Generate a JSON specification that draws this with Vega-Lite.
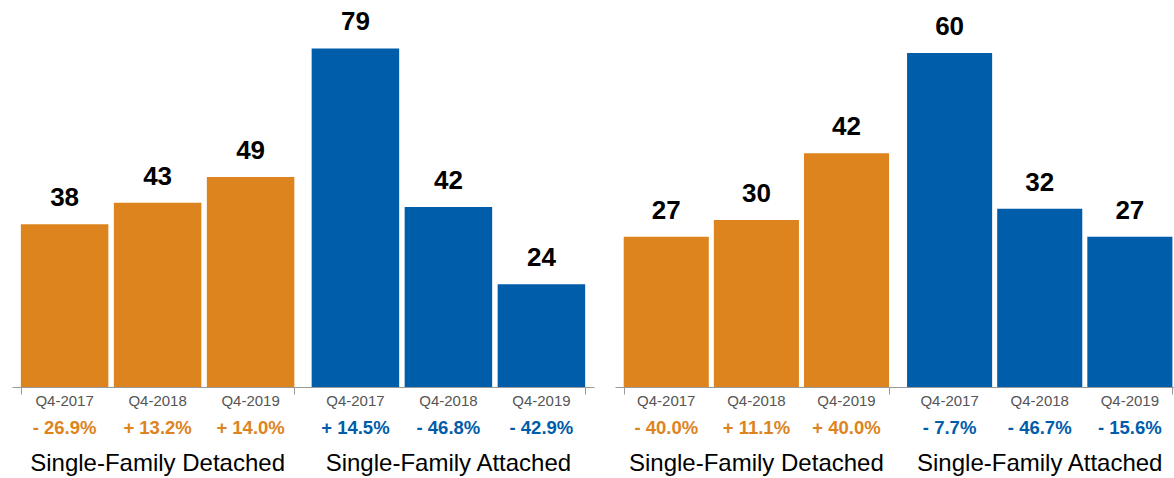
{
  "$schema": "https://vega.github.io/schema/vega-lite/v6.json",
  "padding": {"left": 12, "top": 0, "right": 0, "bottom": 0},
  "background": "white",
  "config": {
    "view": {"stroke": null},
    "font": "Liberation Sans",
    "text": {"font": "Liberation Sans"}
  },
  "datasets": {
    "bars": [
      {"panel": "A", "group": "Single-Family Detached", "quarter": "Q4-2017", "value": 38, "pct": "- 26.9%"},
      {"panel": "A", "group": "Single-Family Detached", "quarter": "Q4-2018", "value": 43, "pct": "+ 13.2%"},
      {"panel": "A", "group": "Single-Family Detached", "quarter": "Q4-2019", "value": 49, "pct": "+ 14.0%"},
      {"panel": "A", "group": "Single-Family Attached", "quarter": "Q4-2017", "value": 79, "pct": "+ 14.5%"},
      {"panel": "A", "group": "Single-Family Attached", "quarter": "Q4-2018", "value": 42, "pct": "- 46.8%"},
      {"panel": "A", "group": "Single-Family Attached", "quarter": "Q4-2019", "value": 24, "pct": "- 42.9%"},
      {"panel": "B", "group": "Single-Family Detached", "quarter": "Q4-2017", "value": 27, "pct": "- 40.0%"},
      {"panel": "B", "group": "Single-Family Detached", "quarter": "Q4-2018", "value": 30, "pct": "+ 11.1%"},
      {"panel": "B", "group": "Single-Family Detached", "quarter": "Q4-2019", "value": 42, "pct": "+ 40.0%"},
      {"panel": "B", "group": "Single-Family Attached", "quarter": "Q4-2017", "value": 60, "pct": "- 7.7%"},
      {"panel": "B", "group": "Single-Family Attached", "quarter": "Q4-2018", "value": 32, "pct": "- 46.7%"},
      {"panel": "B", "group": "Single-Family Attached", "quarter": "Q4-2019", "value": 27, "pct": "- 15.6%"}
    ]
  },
  "hconcat": [
    {
      "width": 582,
      "height": 387,
      "data": {"name": "bars"},
      "transform": [{"filter": "datum.panel === 'A'"}],
      "encoding": {
        "x": {
          "field": "group", "type": "nominal",
          "scale": {"domain": ["Single-Family Detached", "Single-Family Attached"], "paddingInner": 0.0595, "paddingOuter": 0.0304},
          "axis": {"title": null, "labels": false, "tickBand": "extent", "tickSize": 7, "domainColor": "#9a9a9a", "tickColor": "#9a9a9a", "grid": false}
        },
        "color": {
          "field": "group", "type": "nominal",
          "scale": {"domain": ["Single-Family Detached", "Single-Family Attached"], "range": ["#DD841E", "#005DAA"]},
          "legend": null
        }
      },
      "layer": [
        {
          "mark": {"type": "bar"},
          "encoding": {
            "xOffset": {"field": "quarter", "type": "nominal", "scale": {"paddingInner": 0.059, "paddingOuter": 0}},
            "y": {"field": "value", "type": "quantitative", "scale": {"domain": [0, 90.3], "nice": false, "zero": true}, "axis": null}
          }
        },
        {
          "mark": {"type": "text", "fontSize": 26, "fontWeight": "bold", "baseline": "alphabetic", "dy": -18},
          "encoding": {
            "xOffset": {"field": "quarter", "type": "nominal"},
            "y": {"field": "value", "type": "quantitative"},
            "text": {"field": "value", "type": "quantitative"},
            "color": {"value": "black"}
          }
        },
        {
          "mark": {"type": "text", "fontSize": 15, "baseline": "alphabetic", "dy": 19},
          "encoding": {
            "xOffset": {"field": "quarter", "type": "nominal"},
            "y": {"datum": 0, "type": "quantitative"},
            "text": {"field": "quarter", "type": "nominal"},
            "color": {"value": "#555555"}
          }
        },
        {
          "mark": {"type": "text", "fontSize": 18.5, "fontWeight": "bold", "baseline": "alphabetic", "dy": 47},
          "encoding": {
            "xOffset": {"field": "quarter", "type": "nominal"},
            "y": {"datum": 0, "type": "quantitative"},
            "text": {"field": "pct", "type": "nominal"}
          }
        },
        {
          "transform": [{"filter": "datum.quarter === 'Q4-2018'"}],
          "mark": {"type": "text", "fontSize": 24, "baseline": "alphabetic", "dy": 84},
          "encoding": {
            "y": {"datum": 0, "type": "quantitative"},
            "text": {"field": "group", "type": "nominal"},
            "color": {"value": "black"}
          }
        }
      ]
    },
    {
      "width": 559,
      "height": 387,
      "data": {"name": "bars"},
      "transform": [{"filter": "datum.panel === 'B'"}],
      "encoding": {
        "x": {
          "field": "group", "type": "nominal",
          "scale": {"domain": ["Single-Family Detached", "Single-Family Attached"], "paddingInner": 0.0635, "paddingOuter": 0.0182, "align": 0.845},
          "axis": {"title": null, "labels": false, "tickBand": "extent", "tickSize": 7, "domainColor": "#9a9a9a", "tickColor": "#9a9a9a", "grid": false}
        },
        "color": {
          "field": "group", "type": "nominal",
          "scale": {"domain": ["Single-Family Detached", "Single-Family Attached"], "range": ["#DD841E", "#005DAA"]},
          "legend": null
        }
      },
      "layer": [
        {
          "mark": {"type": "bar"},
          "encoding": {
            "xOffset": {"field": "quarter", "type": "nominal", "scale": {"paddingInner": 0.056, "paddingOuter": 0}},
            "y": {"field": "value", "type": "quantitative", "scale": {"domain": [0, 69.5], "nice": false, "zero": true}, "axis": null}
          }
        },
        {
          "mark": {"type": "text", "fontSize": 26, "fontWeight": "bold", "baseline": "alphabetic", "dy": -18},
          "encoding": {
            "xOffset": {"field": "quarter", "type": "nominal"},
            "y": {"field": "value", "type": "quantitative"},
            "text": {"field": "value", "type": "quantitative"},
            "color": {"value": "black"}
          }
        },
        {
          "mark": {"type": "text", "fontSize": 15, "baseline": "alphabetic", "dy": 19},
          "encoding": {
            "xOffset": {"field": "quarter", "type": "nominal"},
            "y": {"datum": 0, "type": "quantitative"},
            "text": {"field": "quarter", "type": "nominal"},
            "color": {"value": "#555555"}
          }
        },
        {
          "mark": {"type": "text", "fontSize": 18.5, "fontWeight": "bold", "baseline": "alphabetic", "dy": 47},
          "encoding": {
            "xOffset": {"field": "quarter", "type": "nominal"},
            "y": {"datum": 0, "type": "quantitative"},
            "text": {"field": "pct", "type": "nominal"}
          }
        },
        {
          "transform": [{"filter": "datum.quarter === 'Q4-2018'"}],
          "mark": {"type": "text", "fontSize": 24, "baseline": "alphabetic", "dy": 84},
          "encoding": {
            "y": {"datum": 0, "type": "quantitative"},
            "text": {"field": "group", "type": "nominal"},
            "color": {"value": "black"}
          }
        }
      ]
    }
  ],
  "spacing": 21,
  "bounds": "flush",
  "resolve": {"scale": {"x": "independent", "y": "independent", "xOffset": "independent", "color": "shared"}}
}
